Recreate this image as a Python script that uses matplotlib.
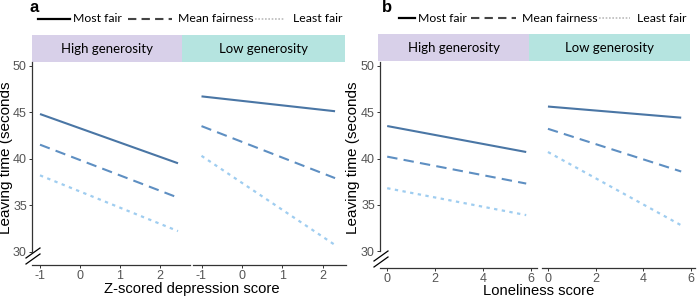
import matplotlib
matplotlib.use("Agg")
import matplotlib.pyplot as plt
from matplotlib.patches import Rectangle

plt.rcParams["font.family"] = ["Liberation Sans", "DejaVu Sans"]

W, H = 700, 297

# ---- data ----
fair_levels = ["Most fair", "Mean fairness", "Least fair"]
facets = ["High generosity", "Low generosity"]

# Panel a: depression (x start/end per facet)
dep_x_high = [-1.0, 2.45]
dep_x_low = [-1.0, 2.3]
dep_high_most = [44.8, 39.5]
dep_high_mean = [41.5, 35.8]
dep_high_least = [38.2, 32.2]
dep_low_most = [46.7, 45.1]
dep_low_mean = [43.5, 37.9]
dep_low_least = [40.3, 30.7]

# Panel b: loneliness
lon_x_high = [0.0, 5.8]
lon_x_low = [0.0, 5.6]
lon_high_most = [43.5, 40.7]
lon_high_mean = [40.2, 37.3]
lon_high_least = [36.8, 33.9]
lon_low_most = [45.6, 44.4]
lon_low_mean = [43.2, 38.6]
lon_low_least = [40.7, 32.8]

y_ticks = [30, 35, 40, 45, 50]
dep_ticks = [-1, 0, 1, 2]
lon_ticks = [0, 2, 4, 6]

# ---- styles ----
c_most = "#4a76a5"
c_mean = "#5e8fc2"
c_least = "#9fcdf0"
purple = "#d8d0e9"
teal = "#b5e4e0"
tick_col = "#555555"
styles = [dict(color=c_most, ls="-", lw=1.5),
          dict(color=c_mean, ls=(0, (5, 3)), lw=1.5),
          dict(color=c_least, ls=(0, (1.5, 2)), lw=1.6)]

fig = plt.figure(figsize=(W / 100, H / 100), dpi=100)


def rect(x0, y0, x1, y1):
    return [x0 / W, 1 - y1 / H, (x1 - x0) / W, (y1 - y0) / H]


overlay = fig.add_axes([0, 0, 1, 1], zorder=-1)
overlay.set_xlim(0, W)
overlay.set_ylim(H, 0)
overlay.axis("off")

tfont = dict(family=["Lato", "DejaVu Sans"])


def make_facet(box, xlim, ylim, xticks, xs, series, show_y):
    ax = fig.add_axes(rect(*box))
    for ys, st in zip(series, styles):
        ax.plot(xs, ys, **st, solid_capstyle="butt", dash_capstyle="butt")
    ax.set_xlim(*xlim)
    ax.set_ylim(*ylim)
    ax.set_xticks(xticks)
    ax.set_xticklabels([str(t) for t in xticks])
    for s in ["top", "right"]:
        ax.spines[s].set_visible(False)
    ax.spines["bottom"].set_color("#333333")
    ax.spines["bottom"].set_linewidth(0.9)
    if show_y:
        ax.set_yticks(y_ticks)
        ax.spines["left"].set_bounds(30, ylim[1])
        ax.spines["left"].set_color("#333333")
        ax.spines["left"].set_linewidth(0.9)
    else:
        ax.spines["left"].set_visible(False)
        ax.set_yticks([])
    ax.tick_params(axis="both", colors="#333333", labelcolor=tick_col,
                   labelsize=9, length=2.5, width=0.7, pad=1.2)
    ax.patch.set_alpha(0)
    return ax


# Panel a
axa1 = make_facet((32, 62, 190, 265), (-1.2, 2.75), (28.55, 50.4), dep_ticks,
                  dep_x_high, [dep_high_most, dep_high_mean, dep_high_least], True)
axa2 = make_facet((193, 62, 346, 265), (-1.21, 2.57), (28.55, 50.4), dep_ticks,
                  dep_x_low, [dep_low_most, dep_low_mean, dep_low_least], False)
# Panel b
axb1 = make_facet((380, 62, 537, 268), (-0.3, 6.25), (28.2, 50.4), lon_ticks,
                  lon_x_high, [lon_high_most, lon_high_mean, lon_high_least], True)
axb2 = make_facet((542, 62, 695, 268), (-0.25, 6.18), (28.2, 50.4), lon_ticks,
                  lon_x_low, [lon_low_most, lon_low_mean, lon_low_least], False)

overlay.text(6, 158, "Leaving time (seconds", fontsize=11, rotation=90,
             ha="center", va="center")
overlay.text(353, 158, "Leaving time (seconds", fontsize=11, rotation=90,
             ha="center", va="center")

overlay.text(192, 289, "Z-scored depression score", fontsize=10.6, ha="center", va="center")
overlay.text(539, 291, "Loneliness score", fontsize=10.6, ha="center", va="center")

# strips
for (x0, xm, x1, y0, y1) in [(32, 182, 345, 35, 62), (378, 529, 690, 34, 61)]:
    overlay.add_patch(Rectangle((x0, y0), xm - x0, y1 - y0, color=purple, lw=0))
    overlay.add_patch(Rectangle((xm, y0), x1 - xm, y1 - y0, color=teal, lw=0))
    overlay.text((x0 + xm) / 2, (y0 + y1) / 2 + 0.5, facets[0], fontsize=9.5,
                 ha="center", va="center", **tfont)
    overlay.text((xm + x1) / 2, (y0 + y1) / 2 + 0.5, facets[1], fontsize=9.5,
                 ha="center", va="center", **tfont)

# panel letters
overlay.text(29, 8, "a", fontsize=12, fontweight="bold", ha="left", va="center")
overlay.text(382, 8, "b", fontsize=12, fontweight="bold", ha="left", va="center")

# legends
leg_styles = [dict(color="black", ls="-", lw=1.6),
              dict(color="#444444", ls=(0, (4, 2.5)), lw=1.5),
              dict(color="#bbbbbb", ls=(0, (1, 1)), lw=1.2)]
for segs, ly in [([(38, 70, 73), (128, 172, 178), (255, 285, 293)], 19),
                 ([(399, 415, 418), (471, 516, 522), (599, 630, 637)], 18)]:
    for (xa, xb, xt), st, lab in zip(segs, leg_styles, fair_levels):
        overlay.plot([xa, xb], [ly, ly], **st)
        overlay.text(xt, ly, lab, fontsize=8.8, ha="left", va="center", **tfont)

# axis break marks
for bx, by in [(33, 256), (381, 259)]:
    for dy in (-3, 3):
        overlay.plot([bx - 7, bx + 7], [by + dy + 5, by + dy - 5], color="black", lw=0.9)

fig.savefig("out.png", dpi=100)
